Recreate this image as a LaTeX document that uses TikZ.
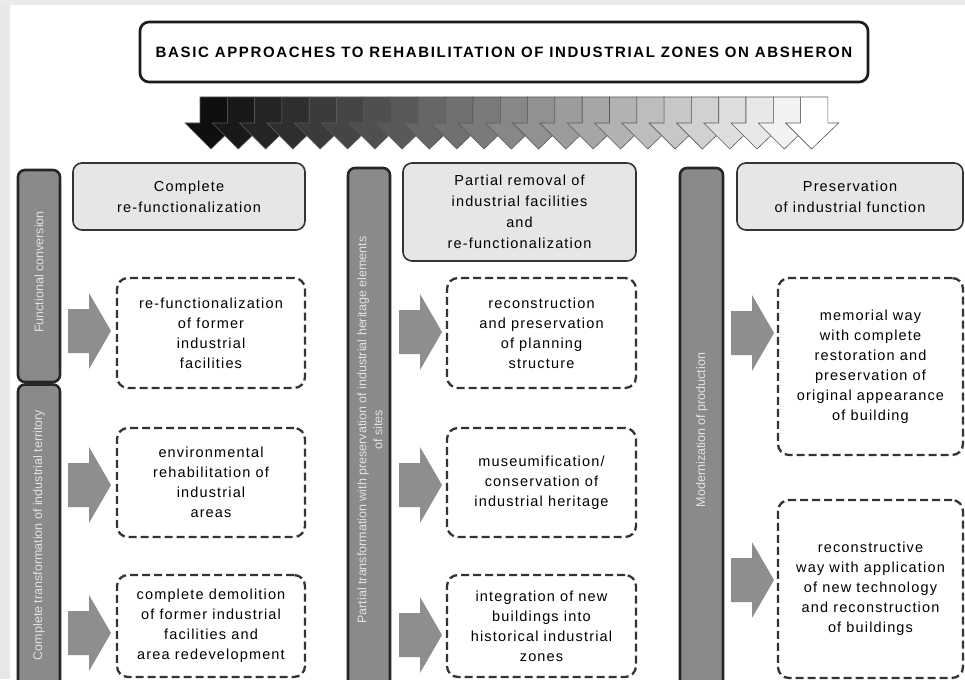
\documentclass[tikz,border=0pt]{standalone}
\usepackage{fontspec}
\setmainfont{Liberation Sans}
\newfontfamily\boxfont[LetterSpace=8]{Liberation Sans}
\newfontfamily\titlefont[LetterSpace=11]{Liberation Sans}
\definecolor{barfill}{HTML}{8A8A8A}
\definecolor{headfill}{HTML}{E6E6E6}
\definecolor{arrowgray}{HTML}{8E8E8E}
\definecolor{bartextc}{HTML}{E2E2E2}
\tikzset{
  titlebox/.style={draw=black!90, line width=2.6pt, rounded corners=9pt, fill=white,
    minimum width=728, minimum height=60, inner sep=0pt,
    font=\titlefont\bfseries\fontsize{15}{17}\selectfont},
  barbox/.style={draw=black!85, line width=2.6pt, fill=barfill, rounded corners=7pt,
    minimum width=42, inner sep=0pt},
  bartext/.style={rotate=90, text=bartextc, align=center, inner sep=0pt,
    font=\fontsize{12.5}{16}\selectfont},
  headbox/.style={draw=black!80, line width=1.6pt, fill=headfill, rounded corners=9pt,
    align=center, inner sep=0pt, font=\boxfont\fontsize{14.5}{21}\selectfont},
  dashbox/.style={draw=black!80, line width=2.3pt, dash pattern=on 8pt off 4pt,
    fill=white, rounded corners=11pt, align=center, inner sep=0pt,
    font=\boxfont\fontsize{14.5}{20}\selectfont},
  grayarrow/.pic={\fill[arrowgray] (-21,-22) -- (0,-22) -- (0,-38) -- (22,0) -- (0,38) -- (0,22) -- (-21,22) -- cycle;},
}
\begin{document}
\begin{tikzpicture}[x=1pt,y=-1pt]
\useasboundingbox (0,0) rectangle (965,679);
\clip (0,0) rectangle (965,679);
\fill[white] (0,0) rectangle (965,679);
\fill[black!9] (0,0) rectangle (10,679);
\fill[red!6!black!8] (0,0) rectangle (965,5);

% title
\node[titlebox] (title) at (504,52) {BASIC APPROACHES TO REHABILITATION OF INDUSTRIAL ZONES ON ABSHERON};

% gradient arrows
\foreach \i in {0,...,22}{
  \pgfmathtruncatemacro\p{6+\i*94/22}
  \pgfmathsetmacro\xx{200+\i*27.3}
  \filldraw[fill=white!\p!black, draw=black!65, line width=0.6pt]
    (\xx,97) -- (\xx+27.3,97) -- (\xx+27.3,123) -- (\xx+38,123) -- (\xx+11,149) -- (\xx-15,123) -- (\xx,123) -- cycle;
}

% vertical bars
\node[barbox, minimum height=212] (barL1) at (39,276) {};
\node[barbox, minimum height=315] (barL2) at (39,542) {};
\node[barbox, minimum height=532] (barM) at (369,434) {};
\node[barbox, minimum height=532, minimum width=43] (barR) at (701.5,434) {};
\node[bartext] (tL1) at (39,272) {Functional conversion};
\node[bartext] (tL2) at (39,535) {Complete transformation of industrial territory};
\node[bartext] (tM) at (370,430) {Partial transformation with preservation of industrial heritage elements\\of sites};
\node[bartext] (tR) at (702,430) {Modernization of production};

% headers
\node[headbox, minimum width=232, minimum height=67] (hL) at (189,196.5) {Complete\\re-functionalization};
\node[headbox, minimum width=233, minimum height=98] (hM) at (519.5,212) {Partial removal of\\industrial facilities\\and\\re-functionalization};
\node[headbox, minimum width=226, minimum height=67] (hR) at (850,196.5) {Preservation\\of industrial function};

% dashed boxes
\node[dashbox, minimum width=188, minimum height=110] (dL1) at (211,333) {re-functionalization\\of former\\industrial\\facilities};
\node[dashbox, minimum width=188, minimum height=109] (dL2) at (211,482.5) {environmental\\rehabilitation of\\industrial\\areas};
\node[dashbox, minimum width=188, minimum height=102] (dL3) at (211,626) {complete demolition\\of former industrial\\facilities and\\area redevelopment};
\node[dashbox, minimum width=189, minimum height=110] (dM1) at (541.5,333) {reconstruction\\and preservation\\of planning\\structure};
\node[dashbox, minimum width=189, minimum height=109] (dM2) at (541.5,482.5) {museumification/\\conservation of\\industrial heritage};
\node[dashbox, minimum width=189, minimum height=102] (dM3) at (541.5,626) {integration of new\\buildings into\\historical industrial\\zones};
\node[dashbox, minimum width=185, minimum height=177] (dR1) at (870.5,366.5) {memorial way\\with complete\\restoration and\\preservation of\\original appearance\\of building};
\node[dashbox, minimum width=185, minimum height=178] (dR2) at (870.5,589) {reconstructive\\way with application\\of new technology\\and reconstruction\\of buildings};

% gray arrows
\pic (aL1) at (89,331) {grayarrow};
\pic (aL2) at (89,485) {grayarrow};
\pic (aL3) at (89,633) {grayarrow};
\pic (aM1) at (420,332) {grayarrow};
\pic (aM2) at (420,485) {grayarrow};
\pic (aM3) at (420,635) {grayarrow};
\pic (aR1) at (752,333) {grayarrow};
\pic (aR2) at (752,580) {grayarrow};
\end{tikzpicture}
\end{document}
